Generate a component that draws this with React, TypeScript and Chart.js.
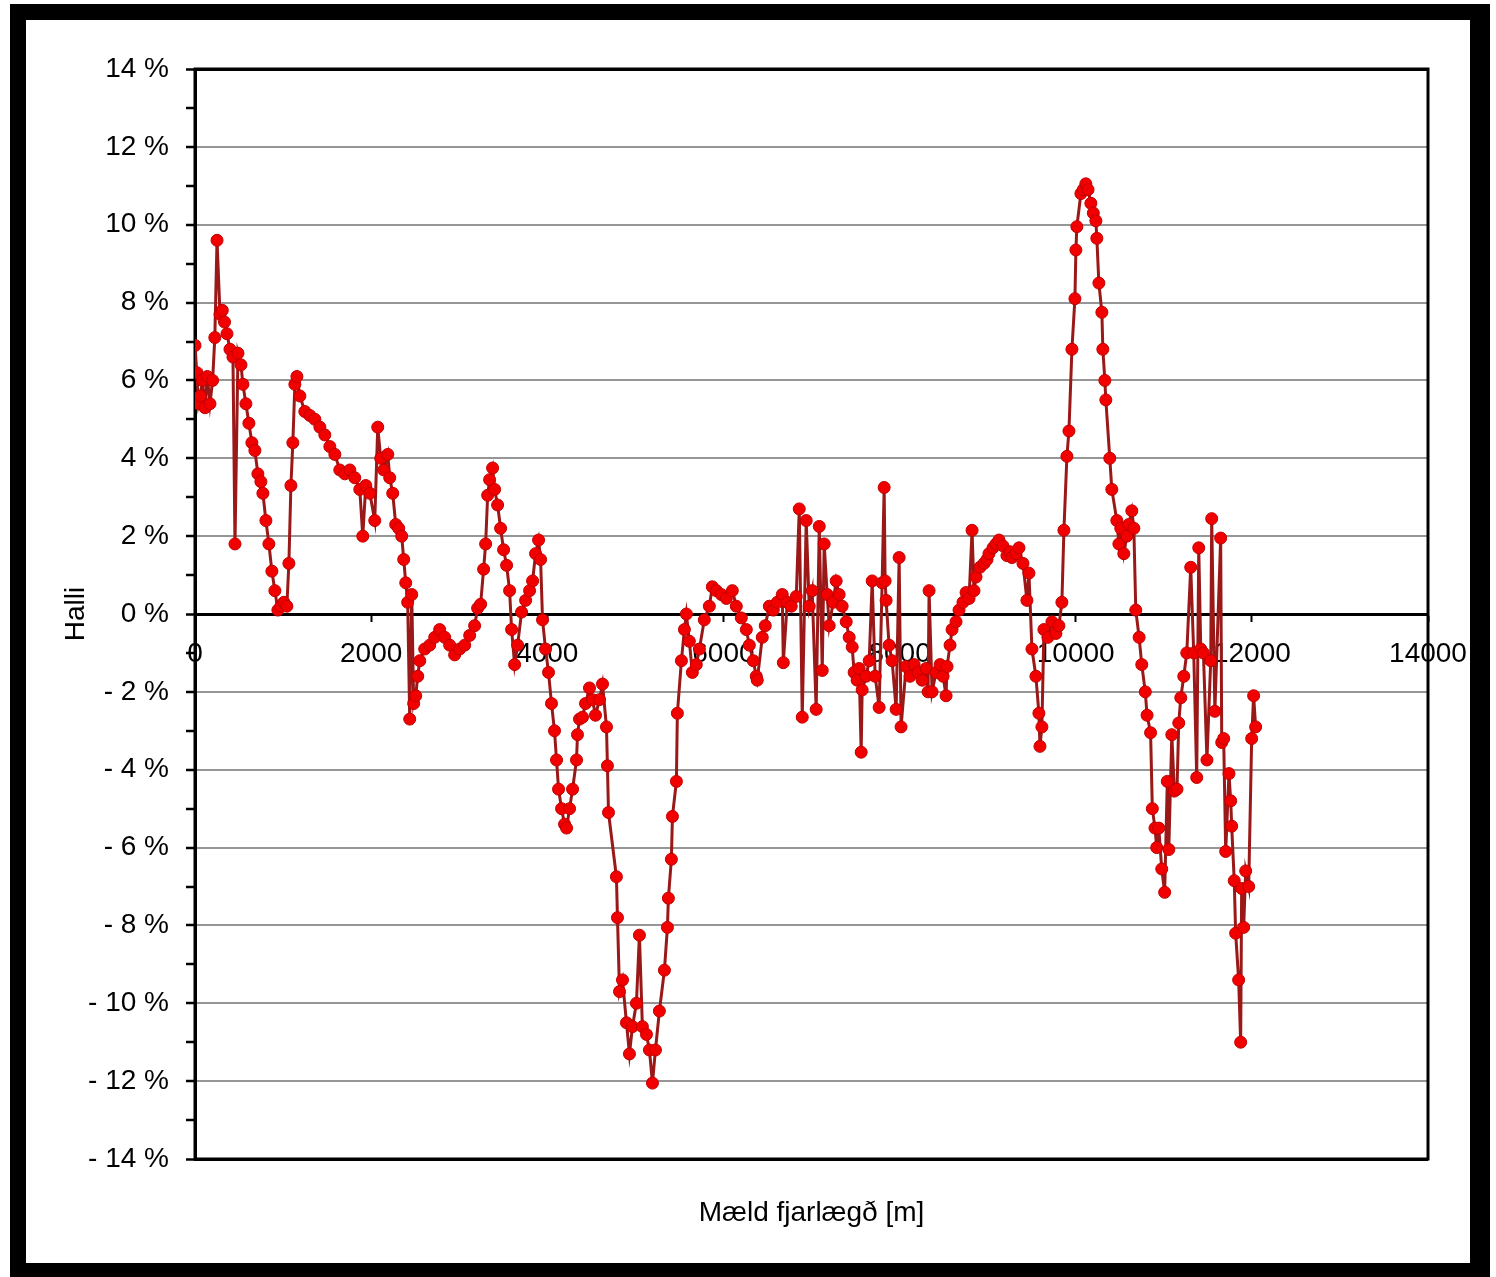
import { useEffect, useRef } from "react";
import { Chart, registerables } from "chart.js";

Chart.register(...registerables);

// Measured distance [m]
const distanceM = [
  0, 20, 40, 60, 85, 113, 140, 170, 200, 225, 250, 284, 310, 335, 363, 397, 431, 454, 488, 522,
  544, 578, 612, 646, 680, 714, 748, 771, 805, 839, 873, 907, 941, 975, 1009, 1043, 1066, 1089, 1111, 1134,
  1157, 1191, 1247, 1304, 1361, 1418, 1474, 1531, 1588, 1644, 1701, 1758, 1814, 1871, 1905, 1939, 1985, 2041, 2075, 2109,
  2143, 2189, 2211, 2245, 2279, 2313, 2347, 2370, 2393, 2415, 2438, 2461, 2483, 2506, 2529, 2552, 2608, 2665, 2722, 2778,
  2835, 2892, 2948, 3005, 3062, 3119, 3175, 3209, 3243, 3277, 3300, 3323, 3345, 3379, 3402, 3436, 3470, 3504, 3538, 3572,
  3595, 3629, 3663, 3708, 3754, 3799, 3833, 3867, 3901, 3924, 3946, 3980, 4014, 4048, 4082, 4105, 4128, 4162, 4196, 4219,
  4253, 4287, 4332, 4343, 4366, 4400, 4434, 4479, 4513, 4547, 4593, 4627, 4672, 4683, 4695, 4785, 4797, 4820, 4854, 4899,
  4933, 4967, 5012, 5046, 5080, 5126, 5160, 5194, 5228, 5273, 5330, 5364, 5375, 5409, 5421, 5466, 5477, 5523, 5557, 5579,
  5613, 5647, 5692, 5727, 5783, 5840, 5874, 5920, 5976, 6033, 6101, 6146, 6203, 6260, 6294, 6339, 6373, 6384, 6441, 6475,
  6521, 6566, 6611, 6668, 6680, 6725, 6770, 6827, 6861, 6895, 6940, 6974, 7008, 7053, 7088, 7122, 7144, 7178, 7201, 7246,
  7280, 7314, 7348, 7394, 7428, 7462, 7484, 7518, 7541, 7564, 7575, 7620, 7655, 7689, 7723, 7768, 7802, 7825, 7836, 7847,
  7881, 7915, 7961, 7995, 8017, 8074, 8119, 8165, 8210, 8256, 8301, 8324, 8335, 8369, 8414, 8460, 8494, 8528, 8539, 8573,
  8596, 8641, 8675, 8720, 8755, 8789, 8823, 8845, 8868, 8913, 8959, 8993, 9015, 9061, 9095, 9129, 9174, 9219, 9253, 9276,
  9321, 9356, 9401, 9446, 9469, 9503, 9548, 9582, 9594, 9616, 9639, 9684, 9730, 9775, 9809, 9843, 9866, 9900, 9923, 9957,
  9991, 10002, 10013, 10059, 10085, 10115, 10140, 10172, 10200, 10229, 10240, 10263, 10297, 10308, 10331, 10342, 10387, 10410, 10467, 10490,
  10512, 10546, 10580, 10603, 10637, 10660, 10682, 10720, 10750, 10790, 10810, 10850, 10870, 10900, 10920, 10943, 10977, 11010, 11040, 11057,
  11091, 11120, 11150, 11170, 11193, 11227, 11261, 11306, 11340, 11374, 11397, 11420, 11450, 11490, 11533, 11544, 11580, 11646, 11658, 11680,
  11703, 11740, 11760, 11771, 11800, 11816, 11850, 11873, 11884, 11907, 11930, 11964, 11998, 12020, 12043,
];

// Slope [%]
const slopePct = [
  6.9, 6.2, 5.4, 5.6, 6.0, 5.3, 6.1, 5.4, 6.0, 7.1, 9.6, 7.7, 7.8, 7.5, 7.2, 6.8, 6.6, 1.8, 6.7, 6.4,
  5.9, 5.4, 4.9, 4.4, 4.2, 3.6, 3.4, 3.1, 2.4, 1.8, 1.1, 0.6, 0.1, 0.2, 0.3, 0.2, 1.3, 3.3, 4.4, 5.9,
  6.1, 5.6, 5.2, 5.1, 5.0, 4.8, 4.6, 4.3, 4.1, 3.7, 3.6, 3.7, 3.5, 3.2, 2.0, 3.3, 3.1, 2.4, 4.8, 4.0,
  3.7, 4.1, 3.5, 3.1, 2.3, 2.2, 2.0, 1.4, 0.8, 0.3, -2.7, 0.5, -2.3, -2.1, -1.6, -1.2, -0.9, -0.8, -0.6, -0.4,
  -0.6, -0.8, -1.05, -0.9, -0.8, -0.55, -0.3, 0.15, 0.25, 1.15, 1.8, 3.05, 3.45, 3.75, 3.2, 2.8, 2.2, 1.65, 1.25, 0.6,
  -0.4, -1.3, -0.8, 0.05, 0.35, 0.6, 0.85, 1.55, 1.9, 1.4, -0.15, -0.9, -1.5, -2.3, -3.0, -3.75, -4.5, -5.0, -5.4, -5.5,
  -5.0, -4.5, -3.75, -3.1, -2.7, -2.65, -2.3, -1.9, -2.2, -2.6, -2.2, -1.8, -2.9, -3.9, -5.1, -6.75, -7.8, -9.7, -9.4, -10.5,
  -11.3, -10.6, -10.0, -8.25, -10.6, -10.8, -11.2, -12.05, -11.2, -10.2, -9.15, -8.05, -7.3, -6.3, -5.2, -4.3, -2.55, -1.2, -0.4, 0.0,
  -0.7, -1.5, -1.3, -0.9, -0.15, 0.2, 0.7, 0.6, 0.5, 0.4, 0.6, 0.2, -0.1, -0.4, -0.8, -1.2, -1.6, -1.7, -0.6, -0.3,
  0.2, 0.1, 0.3, 0.5, -1.25, 0.3, 0.2, 0.45, 2.7, -2.65, 2.4, 0.2, 0.6, -2.45, 2.25, -1.45, 1.8, 0.5, -0.3, 0.3,
  0.85, 0.5, 0.2, -0.2, -0.6, -0.85, -1.5, -1.7, -1.4, -3.55, -1.95, -1.6, -1.2, 0.85, -1.6, -2.4, 0.8, 3.25, 0.85, 0.35,
  -0.8, -1.2, -2.45, 1.45, -2.9, -1.35, -1.6, -1.3, -1.5, -1.7, -1.4, -2.0, 0.6, -2.0, -1.5, -1.3, -1.6, -2.1, -1.35, -0.8,
  -0.4, -0.2, 0.1, 0.3, 0.55, 0.4, 2.15, 0.6, 0.95, 1.2, 1.3, 1.4, 1.55, 1.7, 1.8, 1.9, 1.75, 1.5, 1.6, 1.45,
  1.55, 1.7, 1.3, 0.35, 1.05, -0.9, -1.6, -2.55, -3.4, -2.9, -0.4, -0.6, -0.2, -0.5, -0.3, 0.3, 2.15, 4.05, 4.7, 6.8,
  8.1, 9.35, 9.95, 10.8, 10.9, 11.05, 10.9, 10.55, 10.3, 10.1, 9.65, 8.5, 7.75, 6.8, 6.0, 5.5, 4.0, 3.2, 2.4, 1.8,
  2.2, 1.55, 2.0, 2.3, 2.65, 2.2, 0.1, -0.6, -1.3, -2.0, -2.6, -3.05, -5.0, -5.5, -6.0, -5.5, -6.55, -7.15, -4.3, -6.05,
  -3.1, -4.55, -4.5, -2.8, -2.15, -1.6, -1.0, 1.2, -1.0, -4.2, 1.7, -0.9, -1.0, -3.75, -1.2, 2.45, -2.5, 1.95, -3.3, -3.2,
  -6.1, -4.1, -4.8, -5.45, -6.85, -8.2, -9.4, -11.0, -7.05, -8.05, -6.6, -7.0, -3.2, -2.1, -2.9,
];

const xMin = 0;
const xMax = 14000;
const xStep = 2000;
const yMin = -14;
const yMax = 14;

const xTitle = "Mæld fjarlægð [m]";
const yTitle = "Halli";

const FONT = "'Liberation Sans Narrow', 'Arial Narrow', 'Liberation Sans', Arial, sans-serif";

function fmtPct(v: number): string {
  if (v === 0) return "0 %";
  if (v < 0) return `- ${-v} %`;
  return `${v} %`;
}

const framePlugin = {
  id: "framePlugin",
  beforeDatasetsDraw(chart: any) {
    const { ctx, chartArea: a } = chart;
    ctx.save();
    ctx.strokeStyle = "#000";
    ctx.lineWidth = 3;
    ctx.strokeRect(a.left, a.top, a.right - a.left, a.bottom - a.top);
    ctx.restore();
  },
  afterDraw(chart: any) {
    const { ctx, chartArea: a } = chart;
    ctx.save();
    ctx.fillStyle = "#000";
    ctx.font = `28px ${FONT}`;
    ctx.textAlign = "center";
    ctx.textBaseline = "middle";
    ctx.fillText(xTitle, (a.left + a.right) / 2, a.bottom + 54);
    ctx.translate(76, (a.top + a.bottom) / 2);
    ctx.rotate(-Math.PI / 2);
    ctx.fillText(yTitle, 0, 0);
    ctx.restore();
  },
};

export default function App() {
  const ref = useRef<HTMLCanvasElement | null>(null);

  useEffect(() => {
    if (!ref.current) return;
    const points = distanceM.map((d, i) => ({ x: d, y: slopePct[i] }));
    const chart = new Chart(ref.current, {
      type: "scatter",
      data: {
        datasets: [
          {
            data: points,
            showLine: true,
            borderColor: "#9a1818",
            borderWidth: 3,
            pointRadius: 6,
            pointStyle: "circle",
            pointBackgroundColor: "#f20000",
            pointBorderColor: "#c00000",
            pointBorderWidth: 1,
          },
        ],
      },
      options: {
        animation: false,
        responsive: false,
        layout: { padding: { left: 0, top: 69, right: 68, bottom: 118 } },
        plugins: { legend: { display: false }, tooltip: { enabled: false } },
        scales: {
          x: {
            type: "linear",
            position: { y: 0 } as any,
            min: xMin,
            max: xMax,
            ticks: {
              stepSize: xStep,
              autoSkip: false,
              maxRotation: 0,
              color: "#000",
              padding: 17,
              font: { size: 28, family: FONT },
              callback: (v: any) => String(v),
            },
            grid: {
              drawOnChartArea: false,
              drawTicks: true,
              tickLength: 6,
              tickColor: "#000",
              tickWidth: 2,
            },
            border: { color: "#000", width: 3 },
          },
          y: {
            type: "linear",
            min: yMin,
            max: yMax,
            afterFit: (scale: any) => {
              scale.width = 195;
            },
            ticks: {
              stepSize: 1,
              autoSkip: false,
              maxTicksLimit: 100,
              color: "#000",
              padding: 17,
              font: { size: 28, family: FONT },
              callback: (v: any) => (Math.abs(Number(v)) % 2 === 1 ? "" : fmtPct(Number(v))),
            },
            grid: {
              color: (c: any) => {
                const v = c.tick ? c.tick.value : 1;
                if (Math.abs(v) % 2 === 1) return "rgba(0,0,0,0)";
                if (v === 14 || v === -14 || v === 0) return "#000";
                return "#969696";
              },
              lineWidth: (c: any) => {
                const v = c.tick ? c.tick.value : 1;
                if (v === 14 || v === -14 || v === 0) return 3;
                return 2;
              },
              tickLength: 9,
              tickColor: "#000",
              tickWidth: 2.5,
            },
            border: { color: "#000", width: 3 },
          },
        },
      },
      plugins: [framePlugin],
    });
    return () => chart.destroy();
  }, []);

  return (
    <>
      <div
        style={{
          position: "absolute",
          left: 10,
          top: 4,
          width: 1480,
          height: 1273,
          boxSizing: "border-box",
          borderStyle: "solid",
          borderColor: "#000",
          borderWidth: "16px 20px 14px 16px",
          background: "#fff",
        }}
      />
      <canvas
        ref={ref}
        width={1496}
        height={1277}
        style={{ position: "absolute", left: 0, top: 0, width: 1496, height: 1277 }}
      />
    </>
  );
}
